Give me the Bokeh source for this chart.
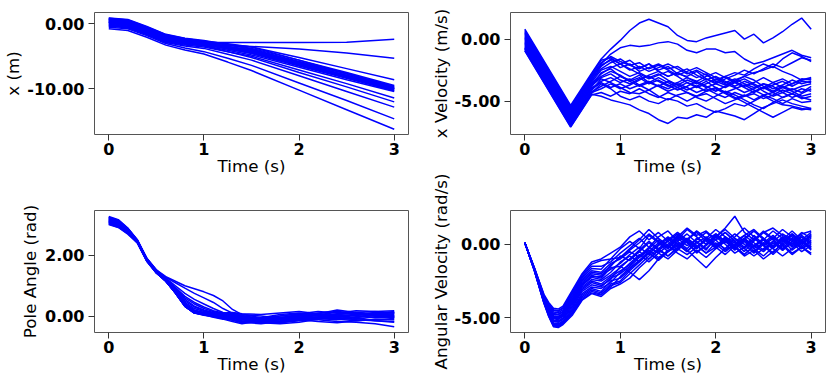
from bokeh.plotting import figure
from bokeh.layouts import row, column
from bokeh.models import FixedTicker, NumeralTickFormatter, Range1d
from bokeh.embed import file_html
from bokeh.resources import INLINE

# ---------------- data ----------------
TIME_TICKS = [0, 1, 2, 3]

T_POS = [0, 0.2, 0.4, 0.6, 0.8, 1.0, 1.25, 1.5, 2.0, 2.5, 3.0]
X_POS = [
    [0.3, 0.05, -1.0, -2.2, -2.7, -2.85, -2.9, -2.9, -2.9, -2.85, -2.4],
    [0.0, -0.25, -1.3, -2.5, -3.0, -3.2, -3.35, -3.5, -3.9, -4.5, -5.3],
    [0.5, 0.25, -0.8, -2.0, -2.5, -2.8, -3.2, -3.6, -5.2, -6.9, -8.6],
    [0.87, 0.62, -0.45, -1.65, -2.25, -2.6, -3.2, -3.8, -5.6, -7.5, -9.5],
    [0.8, 0.55, -0.5, -1.7, -2.3, -2.7, -3.3, -3.9, -5.8, -7.7, -9.7],
    [0.7, 0.45, -0.6, -1.8, -2.4, -2.8, -3.5, -4.1, -6.0, -7.9, -9.8],
    [0.6, 0.35, -0.7, -1.9, -2.5, -2.9, -3.6, -4.2, -6.1, -8.0, -9.9],
    [0.55, 0.3, -0.75, -1.95, -2.5, -2.9, -3.5, -4.0, -6.0, -8.0, -10.0],
    [0.4, 0.15, -0.9, -2.1, -2.65, -3.0, -3.7, -4.3, -6.2, -8.1, -10.0],
    [0.3, 0.05, -1.0, -2.2, -2.75, -3.1, -3.8, -4.4, -6.3, -8.2, -10.1],
    [0.2, -0.05, -1.1, -2.3, -2.85, -3.2, -3.9, -4.5, -6.4, -8.3, -10.2],
    [0.1, -0.15, -1.2, -2.4, -2.9, -3.2, -3.9, -4.6, -6.5, -8.4, -10.3],
    [-0.1, -0.35, -1.4, -2.6, -3.1, -3.4, -4.1, -4.8, -6.7, -8.6, -10.4],
    [-0.2, -0.45, -1.5, -2.7, -3.15, -3.35, -3.7, -4.1, -5.9, -7.7, -9.6],
    [0.65, 0.4, -0.65, -1.85, -2.4, -2.7, -3.1, -3.6, -5.6, -7.7, -9.9],
    [-0.3, -0.55, -1.6, -2.8, -3.3, -3.6, -4.3, -5.0, -7.1, -9.2, -11.4],
    [0.2, -0.05, -1.1, -2.3, -2.95, -3.4, -4.3, -5.2, -7.5, -9.7, -12.0],
    [-0.4, -0.65, -1.7, -2.9, -3.45, -3.8, -4.7, -5.6, -8.0, -10.4, -12.8],
    [-0.55, -0.8, -1.85, -3.05, -3.75, -4.3, -5.3, -6.4, -9.1, -11.8, -14.6],
    [-0.8, -1.05, -2.1, -3.3, -4.05, -4.65, -5.9, -7.2, -10.2, -13.2, -16.2],
]

T_VEL = [0.0, 0.48, 0.7, 0.8, 0.9, 1.0, 1.1, 1.2, 1.3, 1.4, 1.5, 1.6, 1.7,
         1.8, 1.9, 2.0, 2.1, 2.2, 2.3, 2.4, 2.5, 2.6, 2.7, 2.8, 2.9, 3.0]
X_VEL = [
    [0.8, -5.35, -2.75, -1.6, -0.8, -0.1, 0.7, 1.3, 1.6, 1.3, 1.0, 0.3, -0.1, -0.2, 0.1, 0.3, 0.5, 0.7, 0.0, 0.4, -0.3, 0.1, 0.6, 1.2, 1.7, 0.8],
    [0.5, -5.65, -3.05, -2.0, -1.2, -0.7, -0.5, -0.6, -0.5, -0.3, -0.2, -0.4, -0.9, -1.1, -0.8, -0.8, -1.1, -1.0, -1.6, -2.0, -1.8, -1.5, -1.2, -0.9, -1.3, -1.5],
    [0.2, -5.95, -3.35, -2.2, -1.6, -2.0, -1.7, -2.3, -2.0, -2.5, -2.2, -2.8, -3.0, -2.6, -3.2, -3.5, -3.0, -2.7, -2.9, -2.4, -2.0, -2.3, -1.6, -1.1, -1.4, -1.8],
    [-0.9, -7.05, -4.45, -4.6, -4.9, -5.1, -5.3, -5.7, -6.0, -6.5, -6.8, -6.3, -6.4, -6.1, -6.3, -5.8, -6.0, -6.2, -6.5, -6.0, -5.5, -5.2, -4.9, -5.2, -5.4, -5.6],
    [-0.8, -6.95, -4.35, -3.6, -4.0, -4.6, -4.9, -4.6, -5.0, -5.2, -4.8, -5.0, -5.4, -5.2, -5.6, -5.9, -5.6, -5.2, -5.4, -5.0, -4.6, -5.0, -5.3, -5.4, -5.6, -5.7],
    [-0.6, -6.75, -4.15, -3.2, -3.5, -3.9, -4.3, -4.4, -4.1, -4.6, -4.9, -4.5, -4.3, -4.7, -5.0, -4.6, -4.2, -4.5, -4.9, -5.3, -5.6, -5.1, -4.7, -4.4, -4.7, -4.9],
    [-0.3, -6.45, -3.85, -2.7, -2.4, -3.0, -3.3, -2.9, -3.5, -3.8, -3.4, -3.7, -4.1, -3.8, -3.4, -3.9, -4.3, -4.0, -3.7, -4.1, -4.5, -4.3, -3.9, -4.2, -4.6, -4.4],
    [0.7, -5.45, -2.85, -1.7, -1.5, -2.0, -2.5, -2.2, -2.6, -2.3, -2.0, -2.4, -2.8, -2.5, -2.9, -3.3, -3.0, -3.4, -3.8, -3.5, -3.1, -3.5, -3.9, -3.6, -3.3, -3.2],
    [0.6, -5.55, -2.95, -1.9, -1.4, -1.8, -2.1, -1.9, -2.4, -2.1, -2.5, -2.9, -2.6, -2.3, -2.7, -3.1, -3.5, -3.2, -3.6, -3.9, -3.6, -4.0, -3.7, -3.3, -3.6, -3.4],
    [0.4, -5.75, -3.15, -2.1, -1.7, -2.3, -2.0, -2.6, -2.3, -2.0, -2.4, -2.2, -2.7, -3.1, -2.8, -3.4, -3.7, -3.3, -3.0, -3.3, -3.8, -4.2, -3.8, -4.1, -3.8, -3.6],
    [0.3, -5.85, -3.25, -2.4, -1.9, -1.6, -2.1, -2.4, -2.0, -2.6, -3.0, -2.7, -2.4, -2.9, -3.3, -3.0, -3.4, -3.8, -3.4, -3.7, -4.2, -4.6, -4.3, -4.0, -4.3, -3.8],
    [0.1, -6.05, -3.45, -2.5, -2.2, -2.6, -3.0, -2.7, -3.1, -2.8, -3.3, -3.7, -3.3, -3.6, -3.2, -3.6, -3.9, -3.5, -3.9, -4.3, -3.9, -3.5, -3.2, -3.6, -3.2, -3.3],
    [0.0, -6.15, -3.55, -2.8, -2.3, -2.0, -2.4, -2.8, -3.2, -2.9, -2.6, -3.0, -3.5, -3.9, -3.6, -3.2, -3.6, -3.9, -4.3, -4.0, -3.6, -3.8, -4.3, -4.7, -4.4, -4.0],
    [-0.1, -6.25, -3.65, -3.0, -2.6, -2.9, -3.4, -3.1, -3.6, -3.3, -3.7, -4.1, -3.8, -3.4, -3.8, -4.2, -3.8, -3.4, -3.0, -2.7, -2.5, -2.2, -2.6, -2.9, -3.3, -3.1],
    [-0.2, -6.35, -3.75, -3.1, -2.8, -3.3, -3.6, -3.2, -3.0, -3.4, -3.8, -3.5, -3.1, -3.5, -3.9, -3.6, -3.2, -2.9, -2.5, -2.8, -2.4, -2.0, -2.3, -1.9, -1.5, -1.7],
    [-0.4, -6.55, -3.95, -3.4, -3.1, -3.5, -3.2, -3.7, -4.1, -3.7, -4.0, -3.6, -3.9, -4.3, -4.0, -4.4, -4.7, -4.3, -4.6, -4.2, -3.9, -4.3, -4.7, -4.4, -4.0, -4.2],
    [-0.5, -6.65, -4.05, -3.5, -3.9, -3.6, -4.0, -3.7, -3.4, -3.8, -4.2, -3.9, -4.3, -4.6, -4.2, -4.0, -4.4, -4.8, -4.5, -4.9, -4.5, -4.8, -5.2, -4.8, -5.1, -5.0],
    [-0.7, -6.85, -4.25, -3.8, -3.4, -3.0, -3.4, -3.8, -3.5, -3.1, -3.5, -3.9, -3.5, -3.8, -4.2, -3.9, -4.3, -4.7, -5.1, -5.5, -5.9, -6.3, -5.9, -5.5, -5.7, -5.6],
    [-0.75, -6.9, -4.3, -4.0, -3.6, -4.0, -3.7, -3.3, -2.9, -2.6, -3.0, -2.7, -3.1, -3.4, -3.0, -2.7, -3.1, -3.5, -3.2, -3.6, -4.0, -3.7, -3.4, -3.8, -3.4, -3.5],
    [-0.95, -7.1, -4.5, -4.3, -4.6, -4.2, -4.4, -4.0, -4.4, -4.7, -4.3, -4.6, -5.0, -4.6, -4.4, -4.8, -5.2, -4.9, -4.6, -4.4, -4.8, -4.5, -4.1, -4.4, -4.8, -4.6],
]

T_ANG = [0, 0.1, 0.2, 0.3, 0.4, 0.5, 0.6, 0.7, 0.8, 0.9, 1.0, 1.1, 1.2, 1.3,
         1.4, 1.6, 1.8, 2.0, 2.2, 2.4, 2.6, 2.8, 3.0]
ANGLE = [
    [3.1, 3.0, 2.8, 2.45, 1.9, 1.52, 1.3, 1.15, 1.0, 0.9, 0.8, 0.68, 0.5, 0.22, 0.05, -0.05, 0.0, 0.08, 0.05, -0.02, 0.05, 0.1, 0.12],
    [3.2, 3.1, 2.85, 2.47, 1.88, 1.5, 1.28, 1.1, 0.92, 0.75, 0.6, 0.45, 0.25, 0.1, 0.02, -0.08, -0.1, -0.05, 0.02, 0.05, 0.0, -0.05, -0.02],
    [3.15, 3.05, 2.82, 2.46, 1.87, 1.48, 1.25, 1.0, 0.75, 0.55, 0.4, 0.25, 0.12, 0.05, -0.02, -0.1, -0.05, 0.03, 0.0, -0.08, -0.1, -0.02, 0.05],
    [3.25, 3.15, 2.88, 2.5, 1.9, 1.5, 1.22, 0.95, 0.65, 0.45, 0.3, 0.18, 0.1, 0.05, 0.0, -0.12, -0.18, -0.1, -0.05, 0.05, 0.12, 0.15, 0.1],
    [3.05, 2.95, 2.75, 2.43, 1.85, 1.46, 1.2, 0.9, 0.6, 0.4, 0.25, 0.15, 0.08, 0.02, -0.05, -0.15, -0.2, -0.12, -0.05, -0.1, -0.15, -0.12, -0.08],
    [3.28, 3.18, 2.9, 2.52, 1.91, 1.53, 1.24, 0.92, 0.55, 0.33, 0.2, 0.12, 0.06, 0.0, -0.08, -0.2, -0.22, -0.15, -0.08, 0.0, 0.05, 0.0, -0.05],
    [3.18, 3.08, 2.84, 2.47, 1.86, 1.47, 1.19, 0.88, 0.5, 0.3, 0.18, 0.1, 0.04, -0.02, -0.1, -0.18, -0.12, -0.05, 0.05, 0.12, 0.08, 0.02, 0.0],
    [3.12, 3.02, 2.8, 2.45, 1.85, 1.45, 1.18, 0.85, 0.45, 0.25, 0.15, 0.08, 0.02, -0.05, -0.12, -0.2, -0.15, -0.08, -0.12, -0.18, -0.2, -0.25, -0.35],
    [3.08, 2.98, 2.77, 2.44, 1.84, 1.44, 1.17, 0.83, 0.42, 0.2, 0.12, 0.06, 0.0, -0.06, -0.15, -0.22, -0.25, -0.2, -0.1, -0.05, 0.02, 0.08, 0.15],
    [3.22, 3.12, 2.87, 2.49, 1.87, 1.47, 1.18, 0.82, 0.4, 0.18, 0.1, 0.05, 0.02, 0.0, -0.05, -0.1, -0.08, 0.0, 0.1, 0.15, 0.1, 0.05, 0.12],
    [3.14, 3.04, 2.81, 2.45, 1.84, 1.44, 1.16, 0.8, 0.38, 0.16, 0.08, 0.02, -0.05, -0.1, -0.18, -0.15, -0.05, 0.05, 0.0, -0.05, -0.12, -0.15, -0.18],
    [3.03, 2.93, 2.72, 2.42, 1.82, 1.43, 1.15, 0.79, 0.36, 0.14, 0.07, 0.04, 0.0, -0.04, -0.08, -0.05, 0.05, 0.1, 0.05, -0.02, -0.05, 0.02, 0.08],
    [3.26, 3.16, 2.89, 2.51, 1.88, 1.48, 1.17, 0.8, 0.35, 0.12, 0.05, 0.0, -0.05, -0.12, -0.2, -0.25, -0.18, -0.12, -0.18, -0.22, -0.15, -0.1, -0.12],
    [3.1, 3.0, 2.78, 2.44, 1.83, 1.43, 1.16, 0.78, 0.34, 0.12, 0.06, 0.03, 0.02, 0.04, 0.0, -0.1, -0.12, -0.05, 0.08, 0.2, 0.12, 0.05, 0.0],
    [3.2, 3.1, 2.86, 2.48, 1.85, 1.45, 1.15, 0.77, 0.33, 0.11, 0.04, 0.0, -0.03, -0.08, -0.12, -0.08, 0.0, 0.08, 0.15, 0.1, 0.18, 0.15, 0.18],
    [3.06, 2.96, 2.74, 2.42, 1.81, 1.42, 1.15, 0.77, 0.33, 0.1, 0.03, -0.02, -0.08, -0.14, -0.22, -0.2, -0.1, -0.02, -0.08, -0.12, -0.05, 0.05, 0.02],
    [3.16, 3.06, 2.83, 2.46, 1.83, 1.43, 1.15, 0.76, 0.32, 0.1, 0.05, 0.02, 0.05, 0.1, 0.06, 0.0, -0.06, -0.1, -0.02, 0.08, 0.1, 0.05, -0.05],
    [3.24, 3.14, 2.88, 2.5, 1.86, 1.45, 1.16, 0.76, 0.32, 0.1, 0.06, 0.06, 0.08, 0.05, -0.02, -0.12, -0.2, -0.14, -0.05, 0.0, -0.08, -0.15, -0.2],
    [3.02, 2.92, 2.7, 2.41, 1.8, 1.42, 1.15, 0.76, 0.32, 0.1, 0.07, 0.08, 0.1, 0.12, 0.08, 0.05, 0.1, 0.15, 0.08, 0.0, 0.05, 0.12, 0.1],
    [3.13, 3.03, 2.81, 2.45, 1.82, 1.42, 1.15, 0.77, 0.33, 0.12, 0.04, -0.04, -0.1, -0.18, -0.25, -0.15, -0.05, 0.02, -0.05, -0.1, -0.02, 0.03, -0.02],
]

T_OMEGA = [0, 0.1, 0.2, 0.25, 0.3, 0.35, 0.4, 0.5, 0.6, 0.7, 0.8, 0.9, 1.0,
           1.1, 1.2, 1.3, 1.4, 1.5, 1.6, 1.7, 1.8, 1.9, 2.0, 2.1, 2.2, 2.3,
           2.4, 2.5, 2.6, 2.7, 2.8, 2.9, 3.0]
OMEGA = [
    [0.1, -1.6, -3.4, -3.95, -4.35, -4.4, -4.2, -3.1, -2.0, -1.2, -1.0, -0.6, -0.2, 0.5, 0.9, 0.3, 0.8, 0.2, -0.4, 0.3, 0.9, 0.4, -0.2, 0.5, 0.1, -0.5, 0.2, 0.8, 0.3, -0.3, 0.4, -0.1, 0.6],
    [0.1, -1.6, -3.45, -4.05, -4.45, -4.5, -4.3, -3.2, -2.1, -1.35, -1.1, -1.0, -0.3, 0.2, -0.3, 0.6, 0.1, -0.5, 0.2, 0.7, 0.1, -0.4, 0.5, 1.0, 0.4, -0.2, 0.6, 0.0, -0.6, 0.1, 0.7, 0.2, -0.3],
    [0.1, -1.62, -3.5, -4.1, -4.5, -4.55, -4.35, -3.3, -2.2, -1.5, -1.5, -1.2, -0.6, -0.1, 0.4, -0.2, 0.5, 0.9, 0.2, -0.3, 0.4, 0.0, 0.7, 0.2, -0.4, 0.3, 0.9, 0.4, -0.2, 0.5, 0.0, 0.6, 0.1],
    [0.1, -1.63, -3.55, -4.15, -4.6, -4.65, -4.45, -3.4, -2.3, -1.65, -1.7, -1.0, -0.9, -0.4, 0.1, 0.7, 0.2, -0.3, 0.5, 0.1, -0.6, 0.0, 0.6, 0.1, 0.5, 1.1, 0.5, -0.1, 0.4, -0.4, 0.2, 0.8, 0.4],
    [0.1, -1.65, -3.6, -4.25, -4.7, -4.75, -4.55, -3.5, -2.4, -1.8, -1.9, -1.3, -1.0, -0.5, -0.9, -0.3, 0.3, -0.2, 0.4, -0.1, 0.3, 0.8, 0.3, -0.4, 0.0, 0.4, -0.2, 0.3, 0.9, 0.4, -0.1, 0.3, -0.2],
    [0.1, -1.66, -3.65, -4.3, -4.75, -4.8, -4.6, -3.6, -2.5, -1.9, -2.0, -1.5, -0.8, -1.1, -0.5, 0.1, -0.4, 0.3, 0.8, 0.3, -0.2, 0.4, -0.3, 0.2, 0.7, 0.2, -0.5, 0.1, -0.3, 0.3, 0.9, 0.3, 0.5],
    [0.1, -1.68, -3.7, -4.38, -4.85, -4.9, -4.7, -3.7, -2.6, -2.0, -2.1, -1.7, -1.3, -0.7, -0.2, -0.7, 0.0, 0.5, 0.0, -0.5, 0.2, -0.3, 0.3, 0.8, 0.2, 0.6, 0.1, -0.4, 0.2, 0.7, 0.3, -0.3, 0.0],
    [0.1, -1.69, -3.72, -4.41, -4.9, -4.95, -4.75, -3.8, -2.7, -2.1, -2.3, -1.6, -1.5, -1.0, -0.4, 0.2, -0.3, -0.8, -0.2, 0.4, -0.1, -0.6, 0.1, -0.3, 0.4, 0.0, -0.6, 0.0, 0.5, -0.1, -0.7, -0.2, 0.3],
    [0.1, -1.7, -3.75, -4.48, -5.0, -5.05, -4.85, -3.9, -2.8, -2.25, -2.4, -1.9, -1.2, -0.8, -1.2, -0.6, -0.1, 0.4, -0.2, 0.3, 0.8, 0.2, -0.2, 0.5, -0.1, -0.7, -0.1, 0.4, -0.2, 0.3, -0.4, 0.1, 0.7],
    [0.1, -1.71, -3.78, -4.52, -5.05, -5.1, -4.9, -4.0, -2.9, -2.4, -2.5, -2.1, -1.6, -1.0, -0.5, -1.0, -0.4, 0.0, 0.6, 0.1, -0.5, -0.1, 0.5, 0.0, -0.6, -0.2, 0.4, -0.1, -0.7, -0.1, 0.4, -0.2, -0.6],
    [0.1, -1.72, -3.8, -4.58, -5.15, -5.2, -5.0, -4.1, -3.0, -2.5, -2.7, -2.2, -1.8, -1.4, -0.8, -0.2, -0.6, -1.0, -0.4, 0.2, -0.3, 0.3, 0.7, 0.2, -0.3, 0.2, -0.3, -0.8, -0.2, 0.4, 0.0, 0.5, 0.0],
    [0.1, -1.73, -3.83, -4.62, -5.2, -5.25, -5.05, -4.2, -3.1, -2.6, -2.8, -2.4, -1.5, -1.9, -2.4, -1.8, -1.0, -0.4, -0.3, -0.7, -0.2, 0.3, -0.2, -0.7, -0.1, 0.4, -0.1, -0.5, 0.1, -0.4, 0.2, -0.3, 0.2],
    [0.1, -1.74, -3.86, -4.66, -5.25, -5.3, -5.1, -4.3, -3.2, -2.75, -2.9, -2.3, -2.0, -1.5, -0.9, -0.4, -0.9, -0.5, 0.1, -0.4, -1.0, -1.6, -0.9, -0.3, 0.2, -0.3, -0.8, -0.3, 0.2, -0.4, 0.1, -0.5, -0.1],
    [0.1, -1.75, -3.88, -4.72, -5.35, -5.4, -5.2, -4.4, -3.35, -2.9, -3.0, -2.6, -1.9, -1.3, -0.7, -1.2, -0.6, -0.1, -0.6, -1.0, -0.4, -0.9, -0.3, 0.3, -0.2, -0.7, -0.1, 0.3, -0.3, -0.8, -0.3, 0.2, -0.4],
    [0.1, -1.76, -3.9, -4.75, -5.4, -5.45, -5.25, -4.5, -3.45, -3.0, -3.2, -2.5, -2.3, -1.7, -1.1, -0.5, 0.1, -0.3, 0.3, 1.0, 0.5, 0.0, 0.5, 1.1, 1.9, 0.8, 0.3, 0.9, 0.4, 1.0, 0.5, 0.0, 0.6],
    [0.1, -1.77, -3.92, -4.79, -5.45, -5.5, -5.3, -4.6, -3.55, -3.1, -3.3, -2.7, -2.5, -1.8, -1.2, -0.6, -1.1, -0.5, 0.0, -0.5, 0.1, 0.5, 0.0, -0.5, 0.0, 0.6, 1.0, 0.4, -0.1, 0.5, -0.2, 0.3, 0.8],
    [0.1, -1.78, -3.95, -4.83, -5.5, -5.55, -5.35, -4.65, -3.65, -3.2, -3.4, -2.9, -2.2, -1.6, -1.1, -0.6, -1.0, -0.5, -0.1, 0.4, -0.1, -0.6, -0.2, 0.3, -0.2, 0.4, 0.9, 0.3, -0.2, 0.2, 0.7, 0.2, -0.3],
    [0.1, -1.79, -3.97, -4.86, -5.55, -5.6, -5.4, -4.7, -3.75, -3.3, -3.45, -2.8, -2.6, -2.0, -1.4, -0.8, -0.3, 0.2, 0.7, 0.2, -0.3, 0.4, 1.0, 0.5, -0.1, 0.3, -0.3, 0.1, 0.6, 0.0, 0.6, 0.1, 0.4],
    [0.1, -1.8, -4.0, -4.9, -5.6, -5.65, -5.45, -4.8, -3.8, -3.35, -3.55, -3.0, -2.7, -2.3, -1.6, -1.0, -0.4, -0.8, -0.3, 0.3, 0.9, 0.4, -0.1, 0.4, -0.2, -0.8, -0.4, -1.0, -0.5, 0.0, -0.6, -0.2, -0.7],
    [0.1, -1.7, -3.74, -4.45, -4.95, -5.0, -4.8, -3.85, -2.75, -2.2, -2.2, -1.4, -0.9, -0.3, 0.3, 1.0, 0.4, -0.1, 0.5, 1.1, 0.6, 0.9, 0.3, 0.8, 0.2, -0.3, 0.3, 0.8, 1.1, 0.6, 0.2, 0.7, 0.9],
]

for name, tt, series in (("X_POS", T_POS, X_POS), ("X_VEL", T_VEL, X_VEL),
                         ("ANGLE", T_ANG, ANGLE), ("OMEGA", T_OMEGA, OMEGA)):
    for i, s in enumerate(series):
        if len(s) != len(tt):
            raise ValueError(f"{name}[{i}] has {len(s)} values, expected {len(tt)}")


# ---------------- figures ----------------
def make_panel(width, height, borders, y_start, y_end, y_ticks, y_label, t, series,
               label_standoff=5, margin=None):
    left, right, top, bottom = borders
    kw = {}
    if margin is not None:
        kw["margin"] = margin
    p = figure(width=width, height=height,
               x_range=Range1d(-0.15, 3.15), y_range=Range1d(y_start, y_end),
               output_backend="svg", toolbar_location=None,
               min_border_left=left, min_border_right=right,
               min_border_top=top, min_border_bottom=bottom, **kw)
    p.xgrid.visible = False
    p.ygrid.visible = False
    p.outline_line_color = "#555555"
    p.outline_line_width = 1
    p.background_fill_color = "white"
    p.border_fill_color = None

    p.multi_line(xs=[t] * len(series), ys=series, line_color="#0000ff", line_width=1.5)

    p.xaxis.ticker = FixedTicker(ticks=TIME_TICKS)
    p.yaxis.ticker = FixedTicker(ticks=y_ticks)
    p.yaxis.formatter = NumeralTickFormatter(format="0.00")
    p.xaxis.axis_label = "Time (s)"
    p.yaxis.axis_label = y_label
    for ax in (p.xaxis[0], p.yaxis[0]):
        ax.axis_line_color = None
        ax.major_tick_line_color = "#333333"
        ax.major_tick_out = 6
        ax.major_tick_in = 0
        ax.minor_tick_line_color = None
        ax.major_label_text_font = "DejaVu Sans"
        ax.major_label_text_font_style = "bold"
        ax.major_label_text_font_size = "16px"
        ax.major_label_text_color = "black"
        ax.major_label_text_line_height = 1.0
        ax.axis_label_text_font = "DejaVu Sans"
        ax.axis_label_text_font_style = "normal"
        ax.axis_label_text_font_size = "16.7px"
        ax.axis_label_text_color = "black"
        ax.axis_label_text_line_height = 1.0
    p.yaxis.major_label_standoff = 4
    p.xaxis.major_label_standoff = 2
    p.xaxis.axis_label_standoff = -2
    p.yaxis.axis_label_standoff = label_standoff
    return p


# the page is drawn from the window's top-left corner (no body margin)
p1 = make_panel(415, 184, (94, 7, 12, 50), -17.0, 1.7, [0, -10], "x (m)", T_POS, X_POS,
                label_standoff=1)
p3 = make_panel(415, 196, (94, 7, 26, 48), -0.54, 3.48, [0, 2], "Pole Angle (rad)",
                T_ANG, ANGLE, label_standoff=2)
p2 = make_panel(415, 184, (95, 5, 12, 50), -7.69, 2.15, [0, -5], "x Velocity (m/s)",
                T_VEL, X_VEL, label_standoff=0)
p4 = make_panel(415, 208, (95, 5, 38, 48), -5.99, 2.29, [0, -5],
                "Angular Velocity (rad/s)", T_OMEGA, OMEGA, label_standoff=0,
                margin=(-12, 0, 0, 0))

layout = row(column(p1, p3), column(p2, p4))

open("out.html", "w").write(file_html(layout, INLINE))
